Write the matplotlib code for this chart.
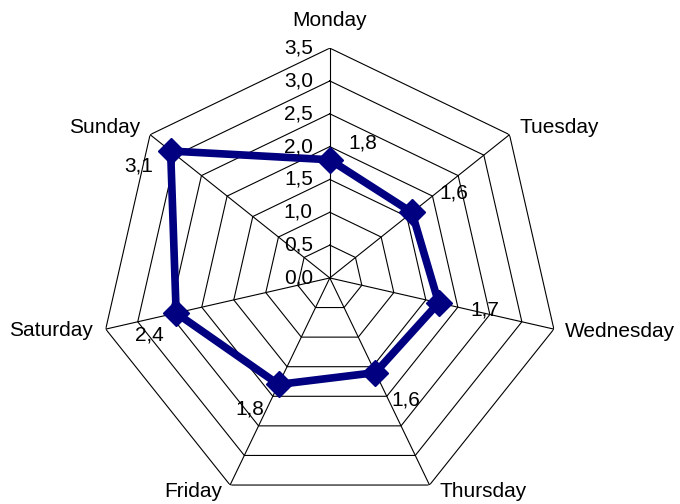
import numpy as np
import matplotlib
matplotlib.use("Agg")
import matplotlib.pyplot as plt

days = ["Monday", "Tuesday", "Wednesday", "Thursday", "Friday", "Saturday", "Sunday"]
values = [1.8, 1.6, 1.7, 1.6, 1.8, 2.4, 3.1]
rings = [0.5, 1.0, 1.5, 2.0, 2.5, 3.0, 3.5]
tick_vals = [0.0, 0.5, 1.0, 1.5, 2.0, 2.5, 3.0, 3.5]

# label offsets (pixels) relative to data point / outer vertex
val_off = [(33, 17), (42, 19), (46, -7), (30, -27), (-29, -25), (-27, -22), (-32, -15)]
cat_off = [((0, 28), "center"), ((10, 7), "left"), ((11, -2), "left"), ((10, -6), "left"),
           ((-8, -6), "right"), ((-13, -1), "right"), ((-10, 7), "right")]

plt.rcParams["font.family"] = ["Liberation Sans", "DejaVu Sans"]
fs = 15
navy = "#000080"

fig = plt.figure(figsize=(6.8, 5.04), dpi=100)
ax = fig.add_axes([0.147, -0.008, 0.676, 0.913], projection="polar")
ax.set_theta_zero_location("N")
ax.set_theta_direction(-1)
ax.set_ylim(0, 3.5)
ax.grid(False)
ax.spines["polar"].set_visible(False)
ax.set_xticks([])
ax.set_yticks([])
ax.patch.set_visible(False)

n = len(days)
ang = np.linspace(0, 2 * np.pi, n, endpoint=False)
ang_c = np.append(ang, ang[0])

for r in rings:
    ax.plot(ang_c, [r] * (n + 1), color="black", lw=0.8, zorder=1)
for a in ang:
    ax.plot([a, a], [0, rings[-1]], color="black", lw=0.8, zorder=1)

vals_c = values + values[:1]
ax.plot(ang_c, vals_c, color=navy, lw=5.5, zorder=3, solid_joinstyle="miter")
ax.plot(ang, values, ls="none", marker="D", ms=13, color=navy, zorder=4)

for a, v, off in zip(ang, values, val_off):
    ax.annotate(f"{v:.1f}".replace(".", ","), xy=(a, v), xytext=off, textcoords="offset pixels",
                ha="center", va="center", fontsize=fs, zorder=5)

for a, d, (off, ha) in zip(ang, days, cat_off):
    ax.annotate(d, xy=(a, rings[-1]), xytext=off, textcoords="offset pixels",
                ha=ha, va="center", fontsize=fs, annotation_clip=False)

for t in tick_vals:
    ax.annotate(f"{t:.1f}".replace(".", ","), xy=(0, t), xytext=(-17, 0), textcoords="offset pixels",
                ha="right", va="center", fontsize=fs, zorder=5)

fig.savefig("out.png", dpi=100)
